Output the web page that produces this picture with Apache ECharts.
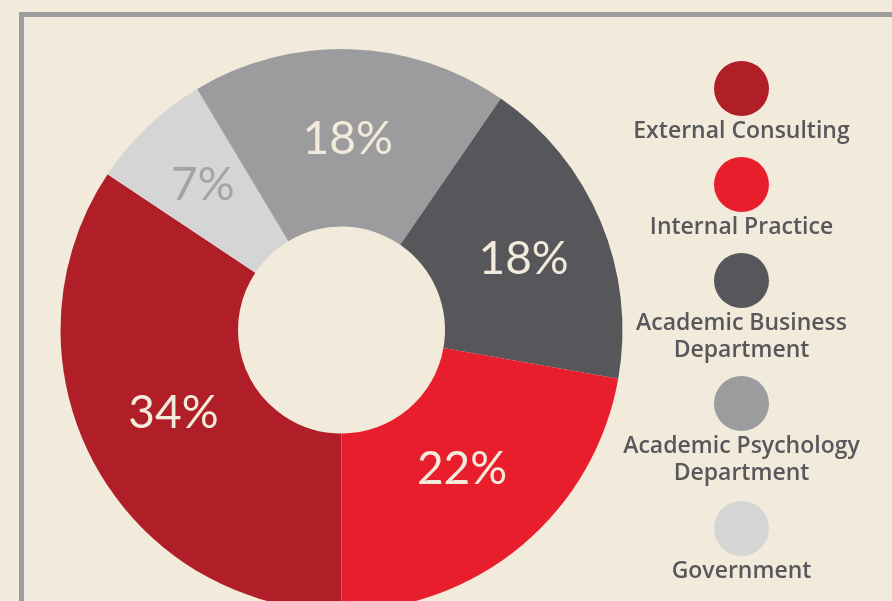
<!DOCTYPE html>
<html>
<head>
<meta charset="utf-8">
<script src="https://cdn.jsdelivr.net/npm/echarts@6/dist/echarts.min.js"></script>
<style>
  html, body { margin: 0; padding: 0; background: #f2ebdc; }
  #chart { width: 892px; height: 601px; }
  .preload { position: absolute; left: -9999px; font-family: Lato; }
  .preload2 { position: absolute; left: -9999px; font-family: "Open Sans"; font-weight: 600; }
</style>
</head>
<body>
<div class="preload">34% 22% 18% 7%</div>
<div class="preload2">External Consulting</div>
<div id="chart"></div>
<script>
// slice order, clockwise from the bottom
var names = ['External Consulting', 'Government', 'Academic Psychology Department', 'Academic Business Department', 'Internal Practice'];
var values = [34, 7, 18, 18, 22];
var colors = ['#b01e28', '#d5d5d5', '#9c9b9d', '#57565b', '#e91e2d'];
var labelColors = ['#f2ebdc', '#a4a4a4', '#f2ebdc', '#f2ebdc', '#f2ebdc'];
var labelOffsets = [[4, -9], [-4, -4], [0, 4], [2, 5], [-5, -10]];

// legend order, top to bottom
var legendNames = ['External Consulting', 'Internal Practice', 'Academic Business\nDepartment', 'Academic Psychology\nDepartment', 'Government'];
var legendColors = ['#b01e28', '#e91e2d', '#57565b', '#9c9b9d', '#d5d5d5'];
var legendY = [88.5, 184.5, 280.5, 403.5, 528.5];

function draw() {
  var chart = echarts.init(document.getElementById('chart'));

  var pieData = names.map(function(n, i) {
    return {
      name: n,
      value: values[i],
      itemStyle: { color: colors[i] },
      label: { color: labelColors[i], offset: labelOffsets[i] }
    };
  });

  var graphics = [
    {
      type: 'rect',
      shape: { x: 21.5, y: 14.5, width: 1000, height: 700 },
      style: { fill: 'none', stroke: '#9d9c9e', lineWidth: 5 },
      z: 0
    }
  ];
  legendNames.forEach(function(n, i) {
    graphics.push({
      type: 'circle',
      shape: { cx: 741.5, cy: legendY[i], r: 27.5 },
      style: { fill: legendColors[i] }
    });
    graphics.push({
      type: 'text',
      x: 741.5,
      y: legendY[i] + 29.5,
      style: {
        text: n,
        fill: '#58575c',
        font: '600 23px "Open Sans"',
        align: 'center',
        verticalAlign: 'top',
        lineHeight: 27
      }
    });
  });

  chart.setOption({
    backgroundColor: '#f2ebdc',
    animation: false,
    graphic: graphics,
    series: [
      {
        type: 'pie',
        center: [341.5, 330],
        radius: [103.5, 281],
        startAngle: 270,
        clockwise: true,
        label: {
          show: true,
          position: 'inside',
          formatter: '{c}%',
          fontFamily: 'Lato',
          fontSize: 46,
          fontWeight: 'normal'
        },
        labelLine: { show: false },
        emphasis: { disabled: true },
        data: pieData
      }
    ]
  });
}

Promise.all([
  document.fonts.load('46px Lato'),
  document.fonts.load('600 23px "Open Sans"')
]).then(draw, draw);
</script>
</body>
</html>
